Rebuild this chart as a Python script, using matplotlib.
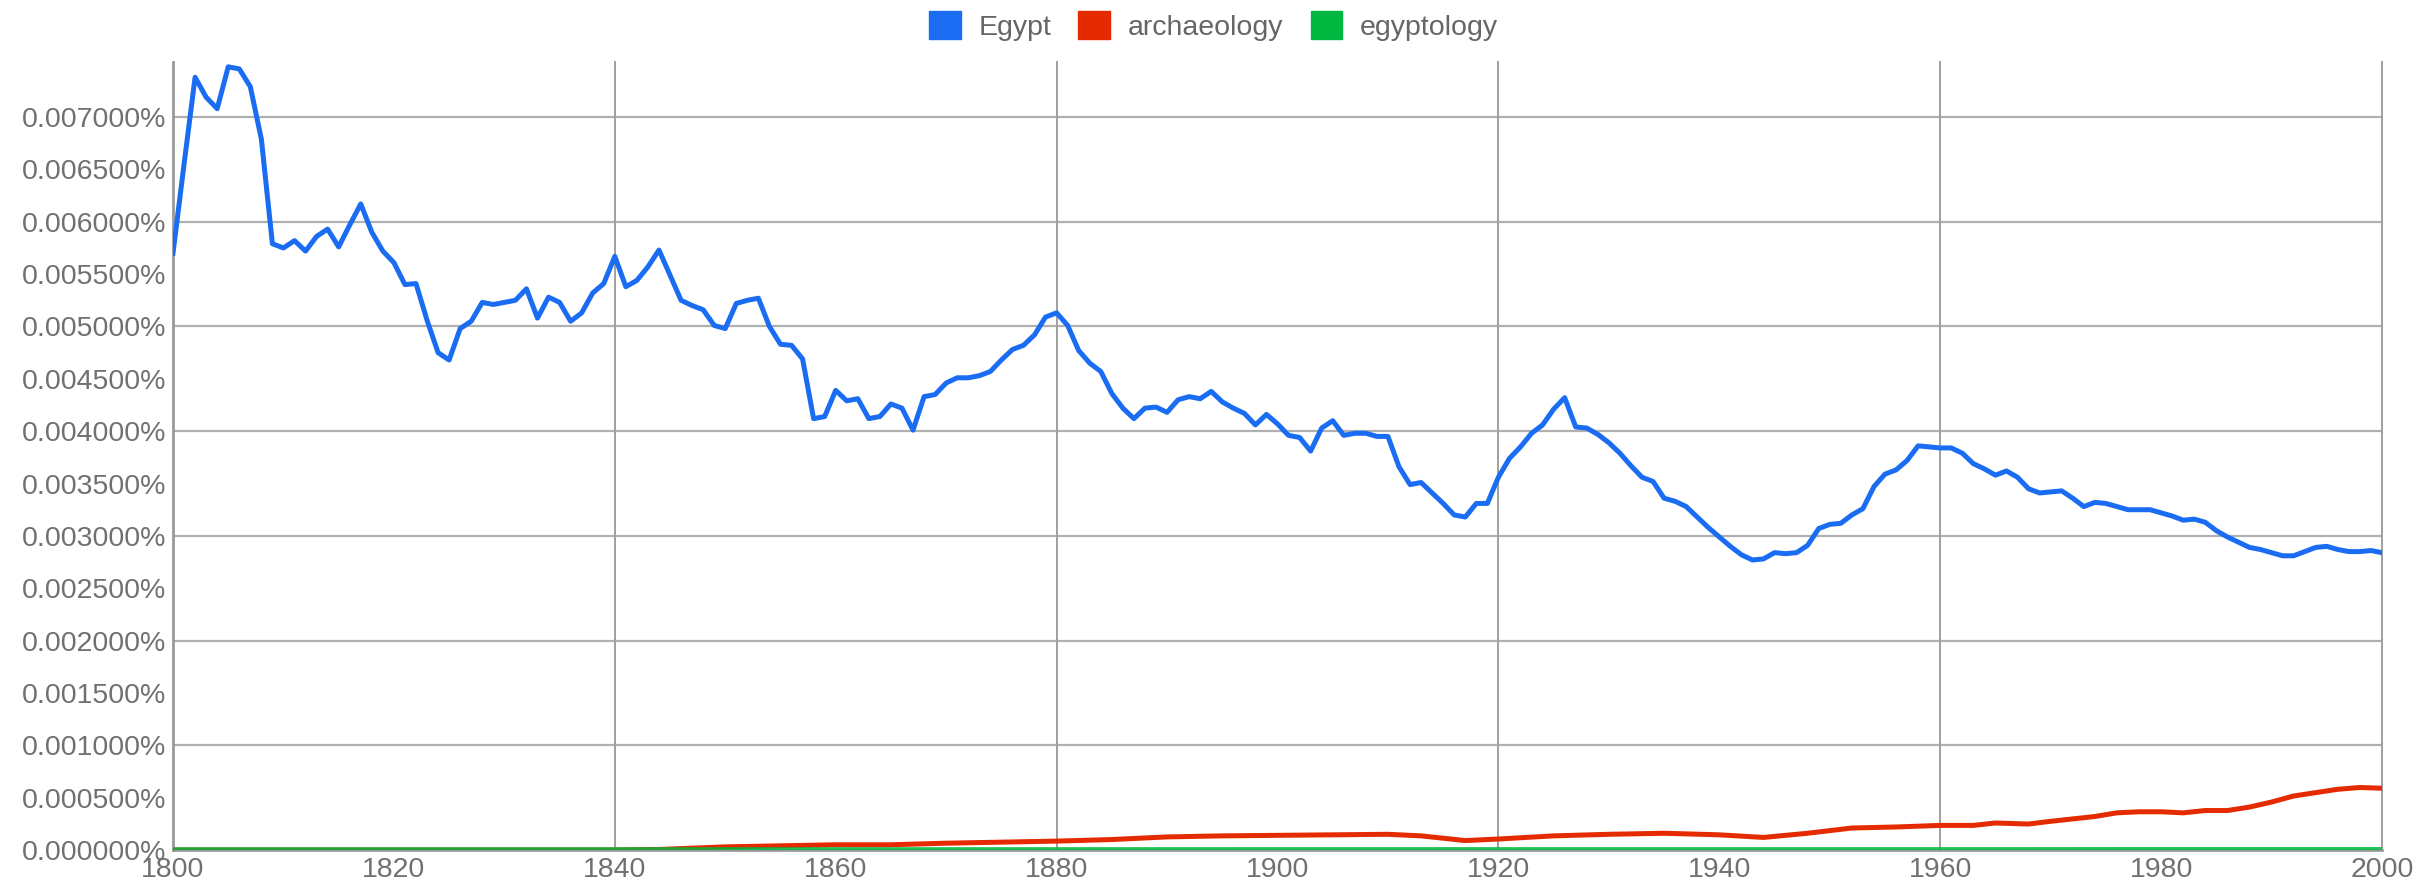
import numpy as np
import matplotlib
matplotlib.use("Agg")
import matplotlib.pyplot as plt
from matplotlib.patches import Patch
from matplotlib.ticker import FuncFormatter

plt.rcParams['font.family'] = ['Liberation Sans', 'DejaVu Sans']

# ---- data (values in thousandths of a percent, i.e. 5.70 -> 0.005700%) ----
years = np.arange(1800, 2001)
egypt = [
    5.70, 6.55, 7.38, 7.19, 7.08, 7.48, 7.46, 7.29, 6.79, 5.79,   # 1800-1809
    5.75, 5.82, 5.72, 5.86, 5.93, 5.76, 5.97, 6.17, 5.90, 5.72,   # 1810-1819
    5.61, 5.40, 5.41, 5.06, 4.75, 4.68, 4.98, 5.05, 5.23, 5.21,   # 1820-1829
    5.23, 5.25, 5.36, 5.08, 5.28, 5.23, 5.05, 5.13, 5.32, 5.41,   # 1830-1839
    5.67, 5.38, 5.44, 5.57, 5.73, 5.49, 5.25, 5.20, 5.16, 5.01,   # 1840-1849
    4.98, 5.22, 5.25, 5.27, 5.00, 4.83, 4.82, 4.69, 4.12, 4.14,   # 1850-1859
    4.39, 4.29, 4.31, 4.12, 4.14, 4.26, 4.22, 4.01, 4.33, 4.35,   # 1860-1869
    4.46, 4.51, 4.51, 4.53, 4.57, 4.68, 4.78, 4.82, 4.92, 5.09,   # 1870-1879
    5.13, 5.01, 4.77, 4.65, 4.57, 4.36, 4.22, 4.12, 4.22, 4.23,   # 1880-1889
    4.18, 4.30, 4.33, 4.31, 4.38, 4.28, 4.22, 4.17, 4.06, 4.16,   # 1890-1899
    4.07, 3.96, 3.94, 3.81, 4.03, 4.10, 3.96, 3.98, 3.98, 3.95,   # 1900-1909
    3.95, 3.66, 3.49, 3.51, 3.41, 3.31, 3.20, 3.18, 3.31, 3.31,   # 1910-1919
    3.56, 3.74, 3.85, 3.98, 4.06, 4.21, 4.32, 4.04, 4.03, 3.97,   # 1920-1929
    3.89, 3.79, 3.67, 3.56, 3.52, 3.36, 3.33, 3.28, 3.18, 3.08,   # 1930-1939
    2.99, 2.90, 2.82, 2.77, 2.78, 2.84, 2.83, 2.84, 2.91, 3.07,   # 1940-1949
    3.11, 3.12, 3.20, 3.26, 3.47, 3.59, 3.63, 3.72, 3.86, 3.85,   # 1950-1959
    3.84, 3.84, 3.79, 3.69, 3.64, 3.58, 3.62, 3.56, 3.45, 3.41,   # 1960-1969
    3.42, 3.43, 3.36, 3.28, 3.32, 3.31, 3.28, 3.25, 3.25, 3.25,   # 1970-1979
    3.22, 3.19, 3.15, 3.16, 3.13, 3.05, 2.99, 2.94, 2.89, 2.87,   # 1980-1989
    2.84, 2.81, 2.81, 2.85, 2.89, 2.90, 2.87, 2.85, 2.85, 2.86,   # 1990-1999
    2.84,                                                         # 2000
]

arch_years = [1800, 1820, 1840, 1844, 1850, 1855, 1860, 1865, 1870, 1875,
              1880, 1885, 1890, 1895, 1900, 1905, 1910, 1913, 1917, 1920,
              1925, 1930, 1935, 1940, 1944, 1948, 1952, 1956, 1960, 1963,
              1965, 1968, 1970, 1972, 1974, 1976, 1978, 1980, 1982, 1984,
              1986, 1988, 1990, 1992, 1994, 1996, 1998, 2000]
archaeology = [0.0, 0.0, 0.0, 0.005, 0.03, 0.04, 0.05, 0.05, 0.065, 0.075,
               0.085, 0.10, 0.125, 0.135, 0.14, 0.145, 0.15, 0.135, 0.09, 0.105,
               0.135, 0.15, 0.16, 0.145, 0.12, 0.16, 0.21, 0.22, 0.235, 0.235,
               0.258, 0.248, 0.274, 0.297, 0.32, 0.355, 0.365, 0.365, 0.355, 0.377,
               0.377, 0.41, 0.458, 0.516, 0.548, 0.58, 0.597, 0.59]

egyptology_years = [1800, 1850, 1900, 1950, 2000]
egyptology = [0.002, 0.003, 0.004, 0.004, 0.005]

series_names = ["Egypt", "archaeology", "egyptology"]
colors = ["#1a6df2", "#e52a00", "#00b83f"]

x_ticks = list(range(1800, 2001, 20))
y_ticks = [i * 0.5 for i in range(0, 15)]

# ---- figure ----
fig = plt.figure(figsize=(24.18, 8.80), dpi=100)
ax = fig.add_axes([173 / 2418, 30 / 880, 2209 / 2418, 788 / 880])

lw = 3.6
ax.plot(years, egypt, color=colors[0], lw=lw, solid_joinstyle='round', zorder=3)
ax.plot(arch_years, archaeology, color=colors[1], lw=lw, solid_joinstyle='round', zorder=4)
ax.plot(egyptology_years, egyptology, color=colors[2], lw=lw, alpha=0.85, zorder=5)

ax.set_xlim(1800, 2000)
ax.set_ylim(0, 7.526)

ax.set_xticks(x_ticks)
ax.set_yticks(y_ticks)
ax.yaxis.set_major_formatter(FuncFormatter(lambda v, p: f"{v / 1000:.6f}%"))
ax.xaxis.set_major_formatter(FuncFormatter(lambda v, p: f"{int(round(v))}"))
ax.tick_params(axis='both', length=0, labelsize=20.5, labelcolor='#707070')
ax.tick_params(axis='y', pad=5)
ax.tick_params(axis='x', pad=5)

# grid lines: horizontal every 0.001%, vertical every 40 years
for gv in range(1, 8):
    ax.axhline(gv, color='#b0b0b0', lw=1.6, zorder=1)
for gx in range(1840, 2001, 40):
    ax.axvline(gx, color='#a0a0a0', lw=1.4, zorder=1, clip_on=False)

for side in ['top', 'right']:
    ax.spines[side].set_visible(False)
for side in ['left', 'bottom']:
    ax.spines[side].set_color('#999999')
    ax.spines[side].set_linewidth(2.0)

handles = [Patch(facecolor=c, edgecolor=c) for c in colors]
fig.legend(handles, series_names, loc='upper left',
           bbox_to_anchor=(929 / 2418, 1 - 11 / 880), ncol=3, frameon=False,
           fontsize=20.5, labelcolor='#666666', borderpad=0, borderaxespad=0,
           handlelength=1.12, handleheight=1.12, handletextpad=0.62,
           columnspacing=0.95)

fig.savefig("out.png", dpi=100, facecolor='white')
